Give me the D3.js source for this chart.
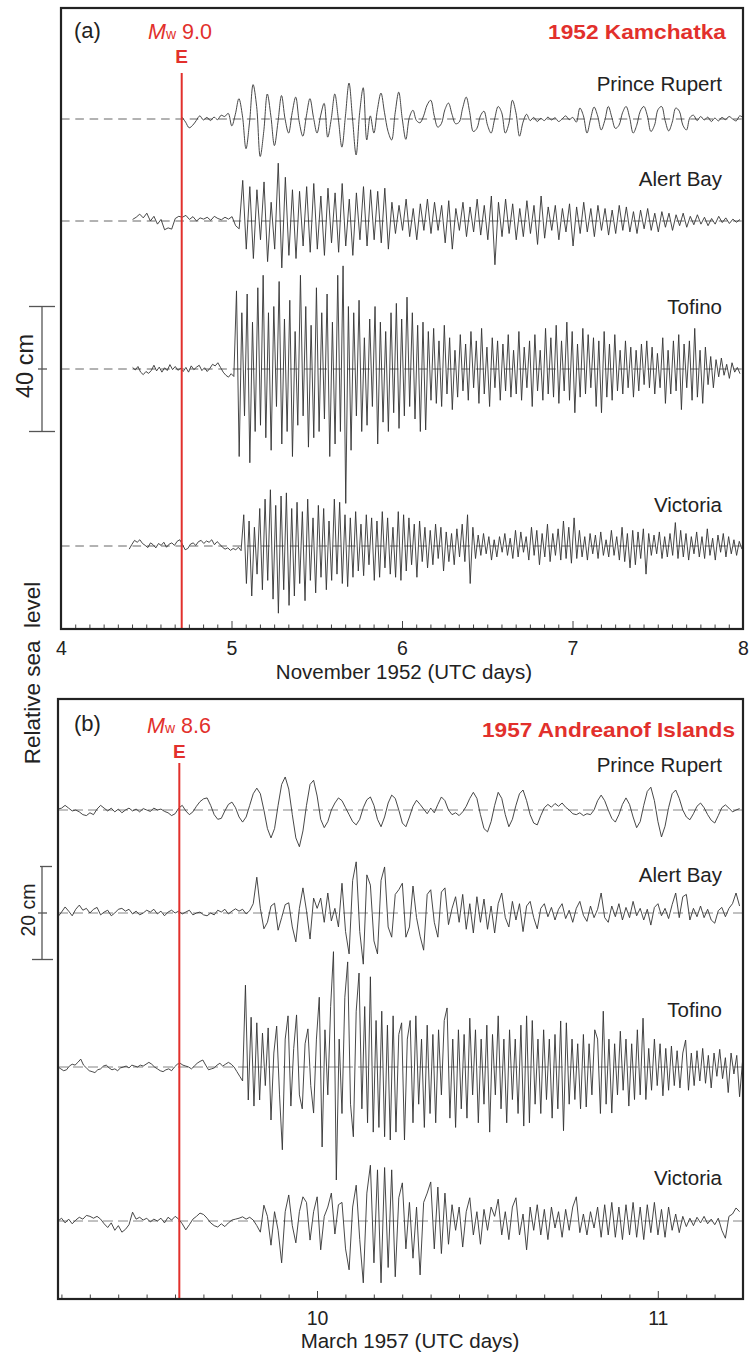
<!DOCTYPE html>
<html>
<head>
<meta charset="utf-8">
<script src="https://cdn.jsdelivr.net/npm/d3@7"></script>
<style>
  html, body { margin: 0; padding: 0; background: #fff; }
  svg { display: block; }
  text { font-family: "Liberation Sans", Arial, Helvetica, sans-serif; }
</style>
</head>
<body>
<svg id="chart" width="753" height="1354"></svg>
<script>
// ---------------------------------------------------------------
// Tide-gauge records (de-tided sea level, mm) on the BC coast
// Each record is uniformly sampled: start day + index * step (days)
// ---------------------------------------------------------------
const stationNames = ["Prince Rupert", "Alert Bay", "Tofino", "Victoria"];

// ---- (a) 1952 Kamchatka, November 1952 ----
const kamEventDay = 4.708;
const kamMagnitude = "9.0";
const kamStart = [4.71, 4.42, 4.42, 4.40];
const kamStep = [1 / 48, 1 / 48, 1 / 64, 1 / 64];
const kamTicks = [4, 5, 6, 7, 8];

const kamPrinceRupert = [
  6, -10, -28, -20, -5, 10, -3, 5, -5, 6, -2, 12, 8, 18, -22,
  15, 65, 10, -95, -10, 110, 40, -120, -40, 80, 10, -85, -10, 75, 0,
  -45, 20, 70, -10, -55, 10, 65, 5, -45, 10, 50,
  -58, 0, 80, 0, -90, 10, 115, 0, -115, 20, 100, -67,
  10, -45, 30, 83, 20, -40, -67, 20, 86, 0,
  -65, 5, 28, -5, -12, 10, 45, 60, 10, -26,
  -15, 30, 51, 15, -15, -10, 35, 70, 20, -40,
  -30, 10, 25, -20, -45, 0, 40, 20, -45, -15,
  60, 20, -55, -10, 15, -5, 5, -8, 2, -5,
  6, -3, 4, -8, 0, 10, -2, 5, -10, 35,
  10, -45, 0, 38, 10, -35, -5, 40, 5, -30,
  -20, 20, 40, 5, -45, -20, 25, 40, 10, -40,
  -20, 30, 40, -5, -38, -10, 35, 25, -20, -35,
  5, 12, -5, 8, -3, 6, -8, 3, -6, 5,
  -2, 8, 0, -6, 10, 4
];

const kamAlertBay = [
  5, 12, 22, 10, 25, 0, 15, -10, 5, -28,
  -22, -26, 8, 15, 12, 18, 5, 14, 0, 10,
  6, 12, 2, 15, 8, 4, 12, 6, 14, -15, -25,
  130, -90, 110, -120, 100, -60, 125, -130, 60, -90,
  185, -150, 140, -110, 100, -120, 95, -80, 110, -100,
  120, -90, 80, -110, 105, -70, 90, -100, 120, -80,
  70, -110, 90, -60, 110, -80, 100, -60, 95, -70,
  105, -90, 60, -40, 50, -30, 70, -50, 40, -60,
  55, -30, 70, -40, 60, -30, 50, -70, 65, -90,
  40, -30, 60, -50, 45, -35, 70, -45, 50, -60,
  80, -140, 60, -50, 70, -40, 55, -60, 40, -50,
  65, -40, 50, -75, 80, -55, 45, -30, 50, -60,
  40, -35, 55, -80, 45, -40, 60, -35, 40, -50,
  50, -30, 40, -45, 35, -40, 50, -30, 45, -35,
  30, -40, 35, -25, 40, -30, 25, -35, 30, -20,
  25, -30, 20, -15, 25, -20, 15, -12, 20, -10,
  12, -15, 8, -10, 15, -5, 10, -8, 6, -4, 5
];

const kamTofino = [
  5, -3, 8, -10, -18, -8, -14, -5, 12, -6,
  6, -10, 4, -5, 14, -2, 8, -4, 2, -8,
  5, -10, 10, -2, 6, 12, -5, 4, -8, 2,
  15, 10, 20, 5, -10, -20, -26, -15, -24,
  250, -280, 180, -150, 240, -300, 150, -200, 260, -180,
  300, -220, 180, -260, 200, -120, 280, -240, 160, -200,
  220, -280, 120, -180, 300, -150, 200, -250, 140, -220,
  260, -200, 180, -160, 240, -280, 150, -240, 300, -200,
  330, -430, 200, -260, 180, -150, 220, -200, 100, -180,
  160, -120, 200, -240, 150, -170, 120, -200, 180, -140,
  210, -190, 160, -150, 230, -120, 180, -160, 140, -200,
  150, -195, 120, -100, 130, -110, 90, -120, 140, -80,
  100, -130, 60, -90, 110, -70, 80, -100, 120, -60,
  90, -110, 130, -80, 70, -120, 100, -60, 90, -100,
  80, -70, 110, -90, 60, -80, 120, -100, 70, -60,
  90, -120, 110, -70, 60, -100, 130, -80, 100, -90,
  140, -110, 90, -70, 150, -100, 120, -140, 80, -90,
  130, -80, 110, -60, 100, -120, 90, -140, 120, -90,
  80, -100, 110, -70, 60, -80, 90, -60, 70, -90,
  60, -70, 80, -50, 90, -60, 70, -80, 50, -60,
  100, -110, 60, -80, 90, -70, 110, -130, 80, -60,
  90, -100, 130, -90, 60, -110, 70, -50, 40, -60,
  30, -25, 35, -20, 15, -30, 20, -10, 5, -15
];

const kamVictoria = [
  -10, 5, 18, 12, 20, 8, 2, -5, 10, 4,
  -6, 8, 2, 12, -4, 6, 10, 2, 15, 20,
  5, -12, -8, 6, 10, 2, 14, 18, 8, 16,
  12, 20, 4, 14, 6, -4, -10, -6, -14, -8,
  -12, -4, -15,
  100, -120, 80, -160, 60, -90, 120, -140, 150, -110,
  180, -170, 130, -215, 160, -140, 170, -190, 120, -160,
  140, -120, 110, -175, 150, -110, 90, -150, 130, -100,
  120, -140, 80, -110, 150, -90, 140, -120, 100, -130,
  90, -100, 110, -80, 70, -95, 100, -60, 90, -110,
  80, -100, 110, -70, 90, -90, 60, -100, 110, -110,
  100, -80, 90, -60, 70, -100, 80, -50, 60, -70,
  50, -60, 70, -40, 60, -80, 45, -50, 40, -60,
  55, -35, 70, -50, 100, -120, 60, -40, 35, -30,
  40, -25, 30, -45, 20, -35, 30, -20, 40, -30,
  25, -40, 50, -35, 45, -20, 30, -45, 60, -30,
  50, -60, 40, -35, 70, -50, 40, -30, 55, -45,
  80, -40, 60, -55, 90, -40, 50, -35, 30, -45,
  40, -25, 35, -40, 45, -30, 20, -35, 50, -30,
  30, -45, 60, -50, 40, -70, 50, -60, 45, -40,
  55, -90, 40, -30, 35, -25, 45, -40, 30, -35,
  40, -30, 75, -40, 50, -35, 40, -45, 30, -25,
  45, -35, 30, -40, 55, -30, 25, -45, 35, -20,
  40, -35, 30, -25, 20, -30, 15, -10
];

// ---- (b) 1957 Andreanof Islands, March 1957 ----
const andEventDay = 9.596;
const andMagnitude = "8.6";
const andStart = [9.24, 9.24, 9.24, 9.24];
const andStep = [1 / 96, 1 / 96, 1 / 120, 1 / 96];
const andTicks = [10, 11];

const andPrinceRupert = [
  2, 4, 10, 4, -2, 0, -4, -10, -12, -6,
  -10, 2, 10, 4, -2, 4, -4, 2, -6, 0,
  4, -2, 2, -4, 3, 0, -3, 4, 0, 2,
  -3, -6, -12, -8, 4, 10, -2, -10, -4, 8,
  18, 24, 26, 10, -10, -20, -18, -2, 12, 17,
  5, -15, -26, -15, 10, 35, 47, 35, 0, -40,
  -60, -40, 10, 55, 71, 45, -10, -60, -79, -45,
  10, 55, 64, 30, -20, -38, -25, 0, 15, 26,
  20, 5, -10, -25, -32, -20, 5, 22, 28, 10,
  -20, -36, -15, 15, 32, 25, 0, -28, -36, -15,
  8, 21, 12, 2, -8, 4, -6, 12, 28, 20,
  0, -10, -6, -12, -4, 8, 25, 38, 25, -10,
  -40, -47, -25, 10, 38, 25, -10, -36, -20, 10,
  35, 43, 20, -10, -28, -32, -12, 5, 12, 6,
  14, 8, 15, 6, 0, -8, -10, -6, -12, -8,
  -10, 0, 20, 32, 20, 0, -18, -26, -10, 12,
  26, 12, -15, -38, -25, 10, 40, 49, 20, -25,
  -58, -35, 5, 35, 43, 25, 0, -15, -21, -8,
  8, 15, 5, -10, -22, -28, -12, 5, 11, 4,
  -4, 0, 3
];

const andAlertBay = [
  -8, 2, 13, 4, -6, 8, 17, 6, 10, 0,
  8, 12, -4, 2, 6, -6, 0, 8, 10, 4,
  8, -2, 4, -4, 0, 6, 2, 8, -2, 4,
  -6, 2, 6, 0, 4, -2, 2, 6, -4, 0,
  2, -4, -6, 0, -4, 6, 2, 8, -2, 4,
  9, 4, 8, -2, 5, 20, 77, 10, -34, -20,
  15, 21, -37, -10, 18, 22, -30, -62, 10, 54,
  5, -56, 32, 10, 32, -20, 43, -17, 10, -30,
  64, -40, -88, 70, 110, -40, -110, 82, 60, -60,
  -88, 70, 99, -30, -52, 40, 50, 64, -52, -30,
  58, -10, -50, -80, 40, 50, -20, -52, 45, 54,
  -25, 10, 35, -20, 40, -35, 20, -43, 35, -20,
  30, -35, 15, -43, 20, 43, -10, -30, 25, -15,
  20, -40, 15, 25, -10, -34, 10, 20, -8, 12,
  -15, 8, 20, -12, 6, -20, 10, 25, -5, -18,
  15, -10, 8, 43, -10, -20, 15, -8, 20, -15,
  12, -10, 25, -6, 10, -15, 8, -26, 12, 20,
  -6, 10, -12, 18, 43, -10, 35, 40, -15, 10,
  -8, 15, -10, 8, -15, -22, 5, 12, -8, 10,
  20, 43, 15
];

const andTofino = [
  0, -4, -8, -6, 2, 6, 4, 10, 17, 4,
  -2, -8, -10, -12, -6, -4, 2, 4, -2, -6,
  -4, -8, -2, 0, 2, -2, 4, 2, 0, 4,
  2, 6, 10, 6, 0, -4, -8, -10, -6, -4,
  -8, 0, 6, 8, 4, 2, 0, -4, 2, 8,
  12, 15, 4, -6, -4, -2, 4, 8, 2, 6,
  10, 6, 0, -10, -20,
  -30, 176, -71, 107, -84, 95, -71, 73, -40, 84,
  -114, 30, 88, -60, -178, 60, 110, -84, 40, 112,
  -60, -90, 50, 82, -40, -99, 60, 150, -172, 80,
  -60, 130, 248, -243, 60, -100, 150, 226, -80, -150,
  120, 202, -90, 130, -120, 194, -140, 100, -130, 120,
  -150, 90, -157, 110, -140, 70, 95, -157, 60, 100,
  -120, 110, -80, 60, -130, 90, -100, 70, -120, 80,
  -60, 100, 127, -110, 60, -130, 80, -90, 70, -110,
  105, -60, 80, -120, 60, -80, 90, -140, 70, -60,
  110, -90, 60, -120, 80, -70, 60, -100, 90, -127,
  110, -120, 100, -80, 60, -100, 80, -70, 60, -110,
  70, -90, 99, -137, 95, -80, 60, -70, 50, -90,
  70, -86, 50, -60, 80, 60, -100, 120, -80, 60,
  -99, 50, -60, 77, -50, 60, -84, 50, -70, 80,
  -60, 105, -70, 40, -50, 60, -40, 50, -62, 40,
  -50, 45, -40, 35, -45, 30, 58, -50, 30, -40,
  35, -30, 40, -35, 25, -45, 30, -20, 38, -25,
  20, -55, 30, -15, 25, -64, 10
];

const andVictoria = [
  0, 6, -4, 4, -6, 2, 8, 4, 12, 10,
  6, 10, 4, -6, -14, -4, -20, -10, -24, -18,
  -8, 19, 4, 8, 2, 6, -2, 4, 0, 6,
  -4, 8, 2, 10, 4, -6, -19, -8, 4, 10,
  17, 14, 6, -4, -10, -13, -6, -12, -4, 2,
  4, 6, 9, 4, 8, 2, -10, -24, 34, 10,
  -52, 20, -20, -90, 20, 56, -10, -47, 20, 52,
  40, -41, 20, 52, -62, 10, 30, 60, -28, 35,
  40, -60, -105, 30, 77, -40, -133, 60, 120, -90,
  110, -133, 115, -100, 110, -120, 50, 82, -60, 40,
  -80, 30, -116, 40, 60, 84, -60, 73, -70, 60,
  -50, 35, -20, 30, -56, 20, 50, -30, 20, -50,
  25, -20, 30, 10, 47, -30, 20, -40, 30, 50,
  -30, 15, -62, 30, -20, 35, -30, 25, -40, 30,
  -15, 20, -35, 25, -20, 30, 52, -25, 15, -30,
  20, -15, 30, -35, 35, -30, 40, -35, 30, -40,
  35, -30, 40, -35, 30, -40, 35, -25, 40, -30,
  25, -35, 30, -20, 15, -25, 10, -12, 6, -10,
  8, -4, 10, -6, 4, -8, 6, -20, -37, 10,
  15, 28, 20
];

// ---------------------------------------------------------------
// Layout
// ---------------------------------------------------------------
const RED = "#e2302c";
const INK = "#222";

const panels = [
  {
    id: "a", tag: "(a)", title: "1952 Kamchatka", titleRight: 726, titleWidth: 178,
    magnitude: kamMagnitude, eventDay: kamEventDay,
    frame: { x0: 61, x1: 743, y0: 8, y1: 629 },
    domain: [4, 8],
    records: [kamPrinceRupert, kamAlertBay, kamTofino, kamVictoria],
    start: kamStart, step: kamStep,
    baseY: [119, 221, 369, 546], labelY: [91, 186, 314, 512],
    pxPerCm: 125 / 40,
    bar: { cm: 40, center: 369, text: "40 cm", size: 23.5, textX: 33,
           topTick: [29, 55], botTick: [29, 55] },
    majorTicks: kamTicks,
    axisTitle: "November 1952 (UTC days)", axisTitleX: 404, axisTitleY: 679,
    tagY: 38, magX: 148, magY: 39, eY: 63, eventTop: 73, titleY: 39,
    dash: "8.6,5.7", dashColor: "#555",
    smooth: [true, false, false, false]
  },
  {
    id: "b", tag: "(b)", title: "1957 Andreanof Islands", titleRight: 735, titleWidth: 253,
    magnitude: andMagnitude, eventDay: andEventDay,
    frame: { x0: 58, x1: 743, y0: 699, y1: 1299 },
    domain: [9.24, 11.25],
    records: [andPrinceRupert, andAlertBay, andTofino, andVictoria],
    start: andStart, step: andStep,
    baseY: [810, 913, 1067, 1221], labelY: [772, 882, 1017, 1185],
    pxPerCm: 93 / 20,
    bar: { cm: 20, center: 913, text: "20 cm", size: 19.5, textX: 35,
           topTick: [40, 52], botTick: [32, 53] },
    majorTicks: andTicks,
    axisTitle: "March 1957 (UTC days)", axisTitleX: 410, axisTitleY: 1348,
    tagY: 731, magX: 147, magY: 733, eY: 758, eventTop: 763, titleY: 737,
    dash: "10,5", dashColor: "#777",
    smooth: [false, false, false, false]
  }
];

const svg = d3.select("#chart");

panels.forEach(p => {
  const f = p.frame;
  const g = svg.append("g").attr("class", "panel-" + p.id);

  const x = d3.scaleLinear().domain(p.domain).range([f.x0, f.x1]);
  // amplitude scale: mm -> pixel offset (up is positive)
  const amp = d3.scaleLinear().domain([0, 10]).range([0, -p.pxPerCm]);

  const clipId = "clip-" + p.id;
  svg.append("defs").append("clipPath").attr("id", clipId)
    .append("rect").attr("x", f.x0).attr("y", f.y0)
    .attr("width", f.x1 - f.x0).attr("height", f.y1 - f.y0);

  // dashed zero lines
  g.selectAll("line.zero").data(p.baseY).join("line")
    .attr("class", "zero")
    .attr("x1", f.x0).attr("x2", f.x1)
    .attr("y1", d => d).attr("y2", d => d)
    .attr("stroke", p.dashColor).attr("stroke-width", 0.9)
    .attr("stroke-dasharray", p.dash);

  // sea-level traces
  const traces = g.append("g").attr("clip-path", `url(#${clipId})`);
  p.records.forEach((rec, k) => {
    const line = d3.line()
      .x((d, i) => x(p.start[k] + i * p.step[k]))
      .y(d => p.baseY[k] + amp(d))
      .curve(p.smooth[k] ? d3.curveCatmullRom.alpha(0.5) : d3.curveLinear);
    traces.append("path")
      .datum(rec)
      .attr("d", line)
      .attr("fill", "none")
      .attr("stroke", "#333")
      .attr("stroke-width", 0.9)
      .attr("stroke-linejoin", "round");
  });

  // station names
  g.selectAll("text.station").data(stationNames).join("text")
    .attr("class", "station")
    .attr("x", 722).attr("y", (d, i) => p.labelY[i])
    .attr("text-anchor", "end")
    .attr("font-size", 20.5).attr("fill", INK)
    .text(d => d);

  // earthquake time marker
  const ex = x(p.eventDay);
  g.append("line")
    .attr("x1", ex).attr("x2", ex)
    .attr("y1", p.eventTop).attr("y2", f.y1)
    .attr("stroke", RED).attr("stroke-width", 2);
  g.append("text")
    .attr("x", ex).attr("y", p.eY)
    .attr("text-anchor", "middle")
    .attr("font-size", 19).attr("font-weight", "bold")
    .attr("fill", RED).text("E");
  const mag = g.append("text")
    .attr("x", p.magX).attr("y", p.magY)
    .attr("font-size", 21.5).attr("fill", RED);
  mag.append("tspan").attr("font-style", "italic").text("M");
  mag.append("tspan").attr("font-size", 14).text("w");
  mag.append("tspan").text(" " + p.magnitude);

  // panel tag and event title
  g.append("text")
    .attr("x", 74).attr("y", p.tagY)
    .attr("font-size", 22).attr("fill", INK).text(p.tag);
  g.append("text")
    .attr("x", p.titleRight).attr("y", p.titleY)
    .attr("text-anchor", "end")
    .attr("font-size", 21).attr("font-weight", "bold").attr("fill", RED)
    .attr("textLength", p.titleWidth).attr("lengthAdjust", "spacingAndGlyphs")
    .text(p.title);

  // x axis: two-hour minor ticks, day major ticks, all pointing inward
  const k0 = Math.ceil(p.domain[0] * 12 + 1e-6), k1 = Math.floor(p.domain[1] * 12 + 1e-6);
  const minor = d3.range(k0, k1 + 1).filter(k => k % 12 !== 0).map(k => k / 12);
  const axisMinor = d3.axisBottom(x).tickValues(minor).tickSizeInner(-4.5).tickSizeOuter(0).tickFormat("");
  const axisMajor = d3.axisBottom(x).tickValues(p.majorTicks).tickSizeInner(-8).tickSizeOuter(0)
    .tickPadding(12).tickFormat(d3.format("d"));
  [axisMinor, axisMajor].forEach(ax => {
    const ag = g.append("g").attr("transform", `translate(0,${f.y1})`).call(ax);
    ag.select(".domain").remove();
    ag.selectAll(".tick line").attr("stroke", "#444").attr("stroke-width", 1);
    ag.selectAll(".tick text")
      .attr("font-size", 19.5).attr("fill", INK)
      .attr("font-family", "'Liberation Sans', Arial, sans-serif");
  });

  // frame
  g.append("rect")
    .attr("x", f.x0).attr("y", f.y0)
    .attr("width", f.x1 - f.x0).attr("height", f.y1 - f.y0)
    .attr("fill", "none").attr("stroke", INK).attr("stroke-width", 2.2);

  // axis title
  g.append("text")
    .attr("x", p.axisTitleX).attr("y", p.axisTitleY)
    .attr("text-anchor", "middle")
    .attr("font-size", 20.5).attr("fill", INK)
    .text(p.axisTitle);

  // vertical scale bar
  const b = p.bar;
  const half = -amp(b.cm * 10 / 2);
  const barG = g.append("g").attr("stroke", "#555").attr("stroke-width", 1.3);
  barG.append("line").attr("x1", 42).attr("x2", 42)
    .attr("y1", b.center - half).attr("y2", b.center + half);
  barG.append("line").attr("x1", b.topTick[0]).attr("x2", b.topTick[1])
    .attr("y1", b.center - half).attr("y2", b.center - half);
  barG.append("line").attr("x1", b.botTick[0]).attr("x2", b.botTick[1])
    .attr("y1", b.center + half).attr("y2", b.center + half);
  barG.append("line").attr("x1", 38).attr("x2", 47)
    .attr("y1", b.center).attr("y2", b.center);
  g.append("text")
    .attr("transform", `translate(${b.textX},${b.center - 3}) rotate(-90)`)
    .attr("text-anchor", "middle")
    .attr("font-size", b.size).attr("fill", INK)
    .text(b.text);
});

// shared y-axis title
svg.append("text")
  .attr("transform", "translate(40,673) rotate(-90)")
  .attr("text-anchor", "middle")
  .attr("font-size", 22.5).attr("fill", INK)
  .style("white-space", "pre")
  .text("Relative sea  level");
</script>
</body>
</html>
